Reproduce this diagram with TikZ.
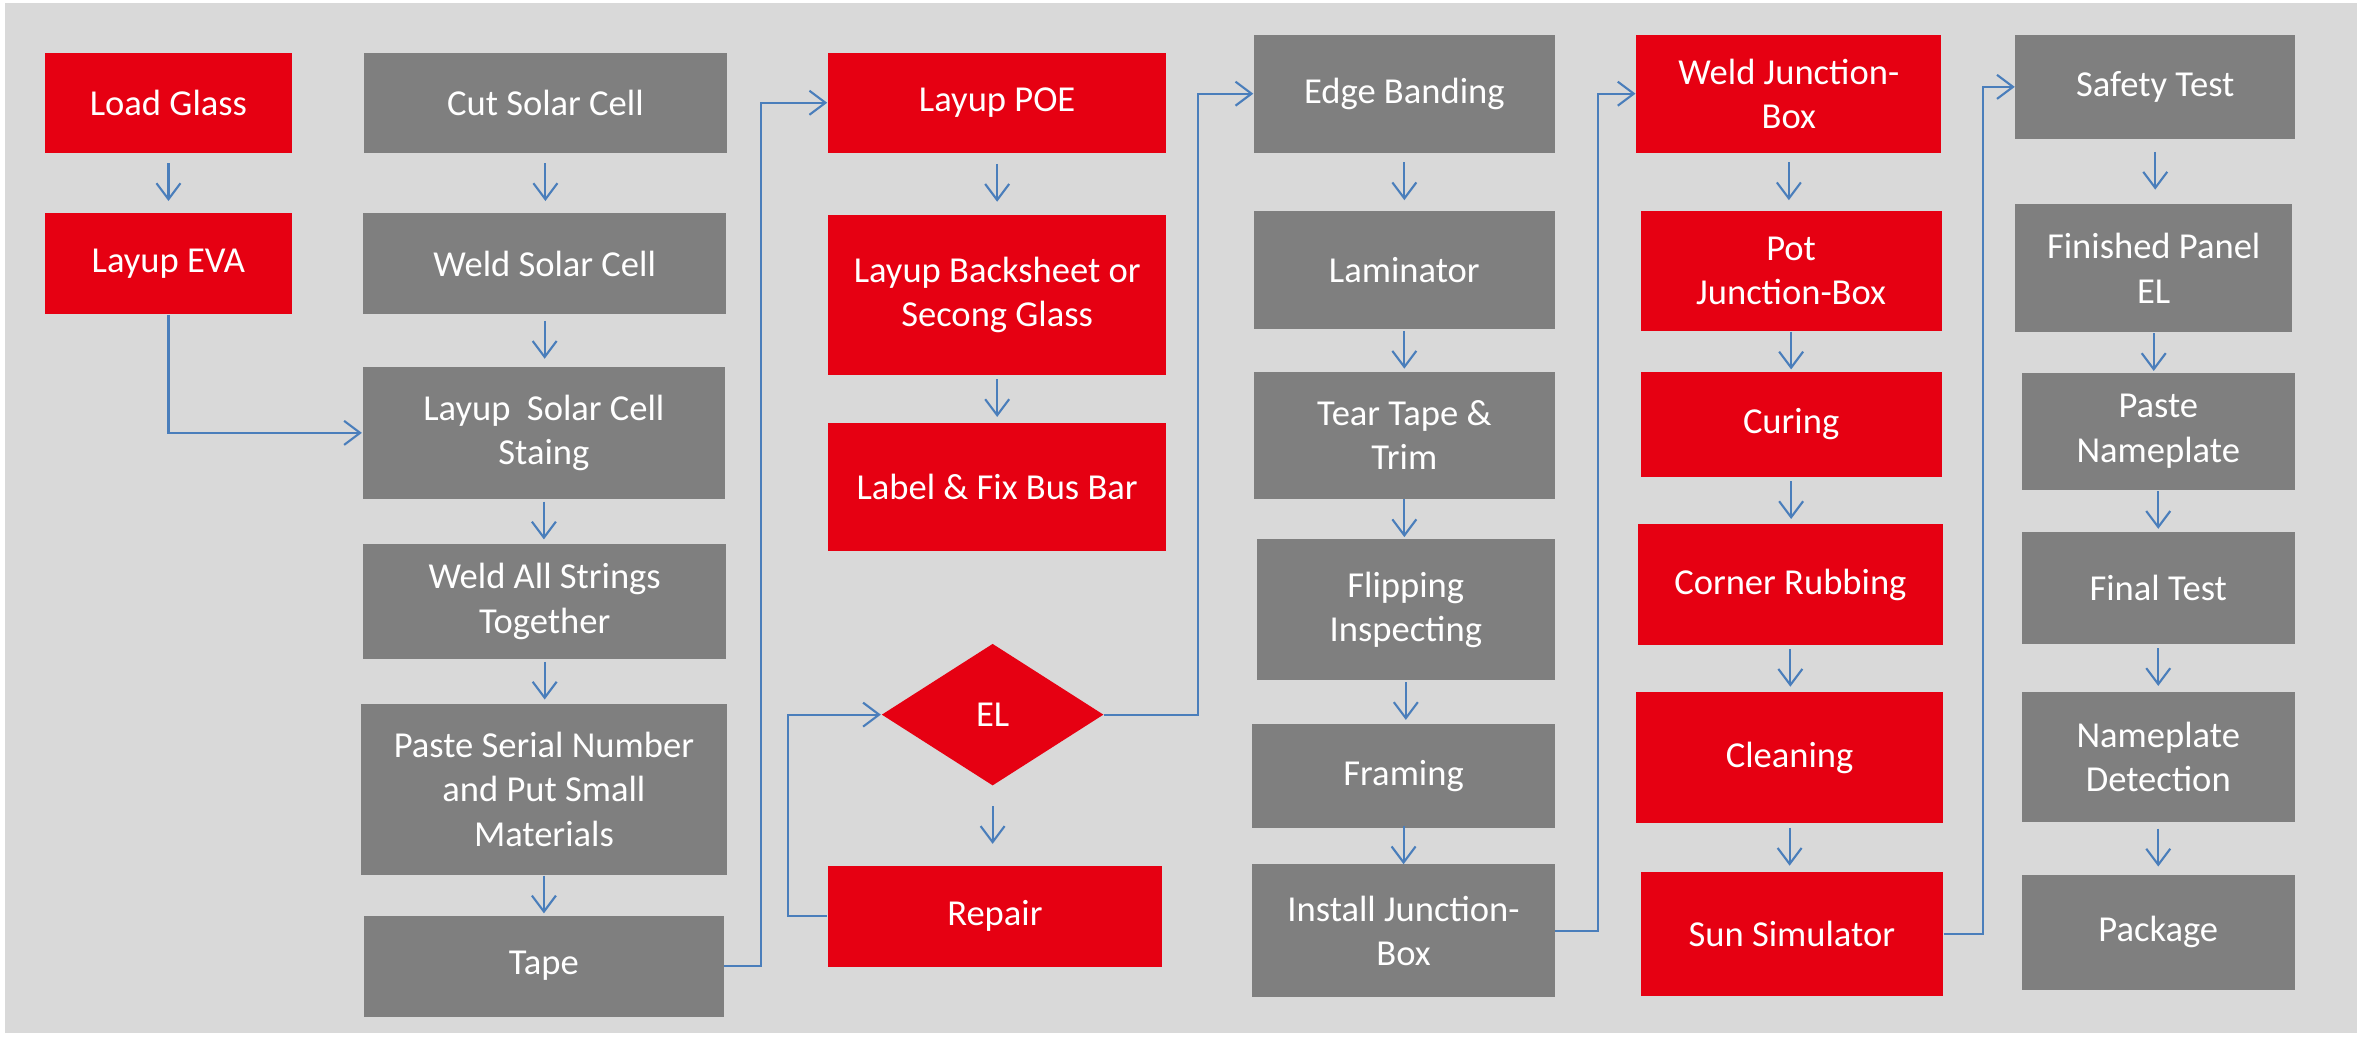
\documentclass[tikz,border=0pt]{standalone}
\usepackage{fontspec}
\setmainfont{Carlito}
\usetikzlibrary{shapes.geometric,arrows.meta,calc}
\definecolor{stepred}{HTML}{E60012}
\definecolor{stepgrey}{HTML}{7F7F7F}
\definecolor{backgrey}{HTML}{D9D9D9}
\definecolor{linkblue}{HTML}{4A7EBB}
\tikzstyle{box}=[rectangle, inner sep=0pt, align=center, text=white, font=\fontsize{10.4}{12.6}\selectfont, anchor=center]
\tikzstyle{redbox}=[box, fill=stepred]
\tikzstyle{greybox}=[box, fill=stepgrey]
\tikzstyle{link}=[draw=linkblue, line width=0.6pt, -{Straight Barb[length=1.6mm,width=2.4mm]}]

\begin{document}
\begin{tikzpicture}[x=0.01511cm, y=-0.01511cm]
	\useasboundingbox (0,0) rectangle (1568,686);
	\fill[backgrey] (3,2) rectangle (1560,684);

	\node[redbox, minimum width=2.463cm, minimum height=0.997cm](loadglass) at (111.5,68){Load Glass};
	\node[redbox, minimum width=2.463cm, minimum height=1.01cm](layupeva) at (111.5,174.5){Layup EVA};

	\node[greybox, minimum width=3.626cm, minimum height=0.997cm](cutcell) at (361,68){Cut Solar Cell};
	\node[greybox, minimum width=3.626cm, minimum height=1.01cm](weldcell) at (360.5,174.5){Weld Solar Cell};
	\node[greybox, minimum width=3.626cm, minimum height=1.315cm](staing) at (360,286.5){Layup~ Solar Cell\\Staing};
	\node[greybox, minimum width=3.626cm, minimum height=1.148cm](weldall) at (360.5,398){Weld All Strings\\Together};
	\node[greybox, minimum width=3.657cm, minimum height=1.707cm](serial) at (360,522.5){Paste Serial Number\\and Put Small\\Materials};
	\node[greybox, minimum width=3.596cm, minimum height=1.01cm](tape) at (360,639.5){Tape};

	\node[redbox, minimum width=3.385cm, minimum height=0.997cm](poe) at (660,68){Layup POE};
	\node[redbox, minimum width=3.385cm, minimum height=1.6cm](backsheet) at (660,195){Layup Backsheet or\\Secong Glass};
	\node[redbox, minimum width=3.385cm, minimum height=1.284cm](busbar) at (660,322.5){Label \& Fix Bus Bar};
	\node[redbox, diamond, minimum width=2.221cm, minimum height=1.42cm](el) at (657,473){EL};
	\node[redbox, minimum width=3.34cm, minimum height=1.01cm](repair) at (658.5,606.5){Repair};

	\node[greybox, minimum width=3.007cm, minimum height=1.179cm](edge) at (929.5,62){Edge Banding};
	\node[greybox, minimum width=3.007cm, minimum height=1.179cm](laminator) at (929.5,179){Laminator};
	\node[greybox, minimum width=3.007cm, minimum height=1.269cm](teartape) at (929.5,288){Tear Tape \&\\Trim};
	\node[greybox, minimum width=2.977cm, minimum height=1.405cm](flipping) at (930.5,403.5){Flipping\\Inspecting};
	\node[greybox, minimum width=3.022cm, minimum height=1.043cm](framing) at (929,513.5){Framing};
	\node[greybox, minimum width=3.022cm, minimum height=1.33cm](installjb) at (929,616){Install Junction-\\Box};

	\node[redbox, minimum width=3.052cm, minimum height=1.179cm](weldjb) at (1184,62){Weld Junction-\\Box};
	\node[redbox, minimum width=3.007cm, minimum height=1.194cm](potjb) at (1185.5,179.5){Pot\\Junction-Box};
	\node[redbox, minimum width=3.007cm, minimum height=1.058cm](curing) at (1185.5,281){Curing};
	\node[redbox, minimum width=3.052cm, minimum height=1.209cm](corner) at (1185,387){Corner Rubbing};
	\node[redbox, minimum width=3.067cm, minimum height=1.315cm](cleaning) at (1184.5,501.5){Cleaning};
	\node[redbox, minimum width=3.022cm, minimum height=1.239cm](sunsim) at (1186,618){Sun Simulator};

	\node[greybox, minimum width=2.795cm, minimum height=1.043cm](safety) at (1426.5,57.5){Safety Test};
	\node[greybox, minimum width=2.765cm, minimum height=1.284cm](panelel) at (1425.5,177.5){Finished Panel\\EL};
	\node[greybox, minimum width=2.735cm, minimum height=1.163cm](pastenp) at (1428.5,285.5){Paste\\Nameplate};
	\node[greybox, minimum width=2.735cm, minimum height=1.118cm](finaltest) at (1428.5,389){Final Test};
	\node[greybox, minimum width=2.735cm, minimum height=1.3cm](detection) at (1428.5,501){Nameplate\\Detection};
	\node[greybox, minimum width=2.735cm, minimum height=1.148cm](package) at (1428.5,617){Package};

	% short arrows inside each column
	\foreach \a/\b in {loadglass/layupeva, cutcell/weldcell, weldcell/staing, staing/weldall, weldall/serial, serial/tape,
		poe/backsheet, backsheet/busbar, el/repair,
		edge/laminator, laminator/teartape, teartape/flipping, flipping/framing, framing/installjb,
		weldjb/potjb, potjb/curing, curing/corner, corner/cleaning, cleaning/sunsim,
		safety/panelel, panelel/pastenp, pastenp/finaltest, finaltest/detection, detection/package}
		\draw[link] ($(\a.south)!.5!(\a.south |- \b.north)$) ++(0,-13) -- ++(0,25);

	\draw[link] (layupeva.south) |- (staing.west);
	\draw[link] (tape.east) -- ++(24,0) |- (poe.west);
	\draw[link] (repair.west) -- ++(-26,0) |- (el.west);
	\draw[link] (el.east) -- ++(62,0) |- (edge.west);
	\draw[link] (installjb.east) -- ++(28,0) |- (weldjb.west);
	\draw[link] (sunsim.east) -- ++(26,0) |- (safety.west);

\end{tikzpicture}
\end{document}
